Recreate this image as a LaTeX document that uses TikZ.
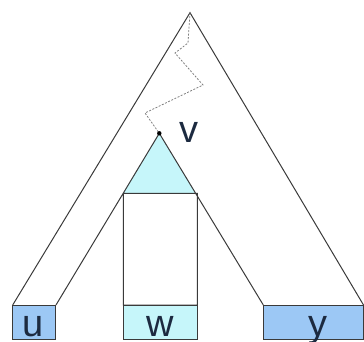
\documentclass[tikz,border=0pt]{standalone}
\usepackage{fontspec}
\setmainfont{Liberation Sans}
\usepackage{tikz}
\usetikzlibrary{positioning,calc}

\definecolor{leafblue}{HTML}{9CC8F5}
\definecolor{leafcyan}{HTML}{C6F6FA}
\definecolor{edgegray}{HTML}{3A3A3A}
\definecolor{lblnavy}{HTML}{1C2A40}

\tikzset{
    leafbox/.style={draw=edgegray, line width=1pt, minimum height=34pt, inner sep=0pt},
    leaflbl/.style={anchor=base, inner sep=0pt, text=lblnavy, font=\fontsize{38}{38}\selectfont},
    walk/.style={draw=gray, line width=0.8pt, dash pattern=on 2pt off 1.5pt}
}

\begin{document}
\begin{tikzpicture}[x=1pt,y=-1pt]
            \useasboundingbox (0,0) rectangle (364,341);
            \coordinate (root) at (190,12.7);
            \coordinate (v) at (159.3,133.3);
            \coordinate (lo) at (12.7,305);
            \coordinate (ro) at (363.5,305);
            \coordinate (li) at (56,305);
            \coordinate (ri) at (263.3,305);
            \coordinate (tl) at (123.2,193.3);
            \coordinate (tr) at (195.6,193.3);
            % leaves
            \node[leafbox, fill=leafblue, minimum width=43.3pt] (u) at (34.3,322) {};
            \node[leafbox, fill=leafcyan, minimum width=74pt] (w) at (160.3,322) {};
            \node[leafbox, fill=leafblue, minimum width=100.2pt] (y) at (313.4,322) {};
            \node[leaflbl] (ulbl) at (33,336.5) {u};
            \node[leaflbl] (wlbl) at (160.3,336.5) {w};
            \node[leaflbl] (ylbl) at (318,336.5) {y};
            % subtree at v
            \fill[leafcyan] (v) -- (tl) -- (tr) -- cycle;
            \draw[edgegray, line width=1pt]
                (lo) -- (root) -- (ro)
                (li) -- (v) -- (ri)
                (123.3,193.3) rectangle (197.3,305)
            ;
            \draw[walk] (root) -- (188,43) -- (175,53) -- (203,85) -- (145,113) -- (v);
            \fill (v) circle (2.2);
            \node[leaflbl, anchor=center] (vlbl) at (189,132) {v};
        \end{tikzpicture}
\end{document}
